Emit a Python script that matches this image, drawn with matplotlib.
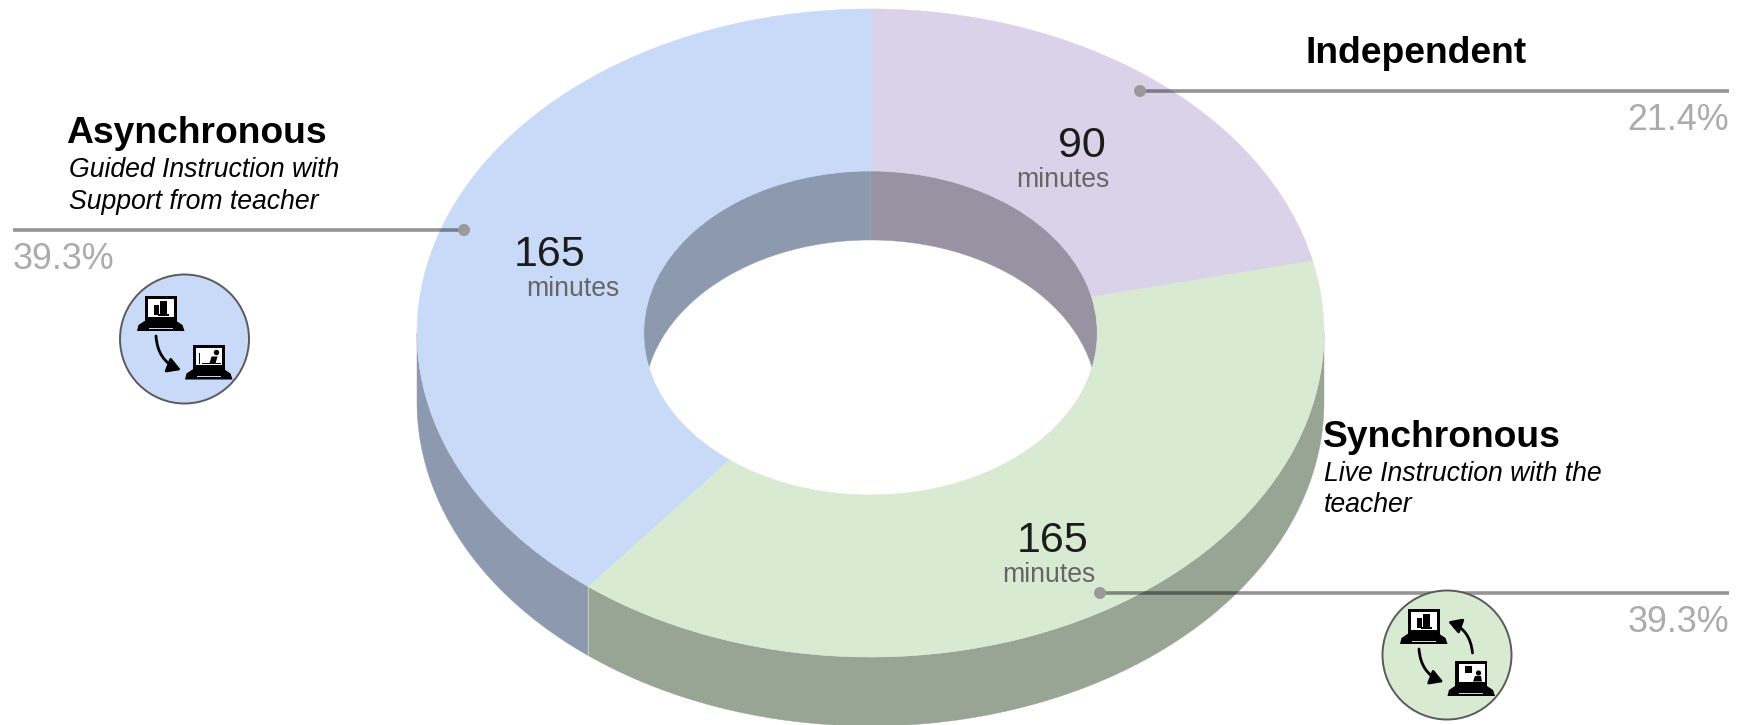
import numpy as np
import matplotlib
matplotlib.use("Agg")
import matplotlib.pyplot as plt
from matplotlib.patches import Circle, Polygon, Rectangle, FancyArrowPatch

plt.rcParams['font.family'] = ['Liberation Sans', 'DejaVu Sans']

# ---- data ----
categories = ["Independent", "Synchronous", "Asynchronous"]
minutes = [90, 165, 165]
percent_labels = ["21.4%", "39.3%", "39.3%"]
top_colors = ["#d9d2e9", "#d9ead3", "#c9daf8"]
side_colors = ["#9893a3", "#98a494", "#8d99ae"]

W, H = 1748, 725
CX, CY, RX, RY = 870.5, 333.0, 453.5, 324.0
DEPTH = 69.0 / RY
HOLE = 0.5

fig = plt.figure(figsize=(W / 100, H / 100), dpi=100, facecolor="white")

# ---- donut axes: unit circle stretched to the ellipse ----
ax = fig.add_axes([0, 0, 1, 1])
wedges, _ = ax.pie(minutes, colors=top_colors, startangle=90, counterclock=False,
                   radius=1.0, wedgeprops=dict(width=1 - HOLE, linewidth=0.4, zorder=5))
for w, c in zip(wedges, top_colors):
    w.set_edgecolor(c)
ax.set_aspect("auto")
ax.set_xlim(-CX / RX, (W - CX) / RX)
ax.set_ylim((CY - H) / RY, CY / RY)
ax.axis("off")

edges = np.cumsum([0] + minutes) / sum(minutes) * 360.0


def wall(a, b, r, color, z=2, **kw):
    t = np.radians(np.linspace(a, b, 200))
    x, y = r * np.sin(t), r * np.cos(t)
    pts = np.r_[np.c_[x, y], np.c_[x, y - DEPTH][::-1]]
    ax.add_patch(Polygon(pts, closed=True, facecolor=color, edgecolor=color,
                         linewidth=0.3, zorder=z, **kw))


# outer wall: only the front half of the ring is visible
for i in range(len(minutes)):
    a, b = max(edges[i], 90), min(edges[i + 1], 270)
    if a < b:
        wall(a, b, 1.0, side_colors[i])
seam = np.radians(edges[2])
ax.plot([np.sin(seam)] * 2, [np.cos(seam), np.cos(seam) - DEPTH],
        color="#c4cfc0", lw=0.7, zorder=3)

# inner wall: back half of the hole
wall(0, 90, HOLE, side_colors[0])
wall(270, 360, HOLE, side_colors[2])

# ---- overlay in pixel coordinates ----
ov = fig.add_axes([0, 0, 1, 1], facecolor="none")
ov.set_xlim(0, W)
ov.set_ylim(H, 0)
ov.axis("off")


def txt(x, y, s, size, color="black", ha="left", **kw):
    ov.text(x, y, s, fontsize=size, color=color, ha=ha, va="baseline", **kw)


TITLE, SUB, NUM, UNIT, PCT = 26.8, 19.2, 31, 19.2, 25.8

txt(66.5, 143, categories[2], TITLE, weight="bold")
txt(69, 177, "Guided Instruction with", SUB, style="italic")
txt(69, 209, "Support from teacher", SUB, style="italic")
txt(1305.5, 63, categories[0], TITLE, weight="bold")
txt(1323, 447, categories[1], TITLE, weight="bold")
txt(1324, 481, "Live Instruction with the", SUB, style="italic")
txt(1324, 512, "teacher", SUB, style="italic")

txt(13, 269, percent_labels[2], PCT, "#ababab")
txt(1729, 129.5, percent_labels[0], PCT, "#ababab", ha="right")
txt(1729, 632.5, percent_labels[1], PCT, "#ababab", ha="right")

txt(514, 266, str(minutes[2]), NUM, "#1c1c1c")
txt(526, 296, "minutes", UNIT, "#666666")
txt(1058.5, 157, str(minutes[0]), NUM, "#1c1c1c")
txt(1016, 187, "minutes", UNIT, "#666666")
txt(1017, 552.5, str(minutes[1]), NUM, "#1c1c1c")
txt(1002.5, 581.5, "minutes", UNIT, "#666666")

# leader lines
for x0, x1, y in [(13, 464, 230), (1140, 1729, 91), (1100, 1729, 593)]:
    ov.plot([x0, x1], [y, y], color="#000000", alpha=0.42, lw=2.6, zorder=6,
            solid_capstyle="butt")
    dot_x = x1 if x0 == 13 else x0
    ov.add_patch(Circle((dot_x, y), 6, facecolor="#9a9a9a", edgecolor="none", zorder=7))


def laptop(x0, y0, kind):
    k = dict(facecolor="black", edgecolor="none", zorder=12)
    ov.add_patch(Rectangle((x0, y0), 32, 25, **k))
    ov.add_patch(Rectangle((x0 + 3.5, y0 + 3.2), 26, 17.5, facecolor="white",
                           edgecolor="none", zorder=13))
    ov.add_patch(Polygon([(x0, y0 + 25), (x0 + 32, y0 + 25), (x0 + 38, y0 + 29),
                          (x0 + 40, y0 + 35), (x0 - 7.5, y0 + 35), (x0 - 6, y0 + 29)],
                         closed=True, **k))
    ov.add_patch(Rectangle((x0 + 4, y0 + 31.5), 24, 1.3, facecolor="#c4d4e8",
                           edgecolor="none", zorder=13))
    f = dict(facecolor="black", edgecolor="none", zorder=14)
    if kind == "student":
        ov.add_patch(Rectangle((x0 + 15, y0 + 4.5), 7.5, 13, **f))
        ov.add_patch(Rectangle((x0 + 9.5, y0 + 9), 5, 10, **f))
        ov.add_patch(Rectangle((x0 + 13, y0 + 17.5), 11, 2.2, **f))
    elif kind == "guided":
        ov.add_patch(Circle((x0 + 24, y0 + 8), 2.7, **f))
        ov.add_patch(Polygon([(x0 + 19, y0 + 12), (x0 + 25, y0 + 12), (x0 + 23, y0 + 19),
                              (x0 + 17, y0 + 19)], closed=True, **f))
        ov.add_patch(Rectangle((x0 + 9, y0 + 18.5), 19, 1.2, **f))
        ov.add_patch(Rectangle((x0 + 6, y0 + 8), 1.2, 11, **f))
    else:
        ov.add_patch(Rectangle((x0 + 10, y0 + 4.5), 7, 7, **f))
        ov.add_patch(Circle((x0 + 23.5, y0 + 12), 2.6, **f))
        ov.add_patch(Polygon([(x0 + 18, y0 + 20.5), (x0 + 20, y0 + 15), (x0 + 26, y0 + 15),
                              (x0 + 27, y0 + 20.5)], closed=True, **f))


def arrow(p, q, rad):
    ov.add_patch(FancyArrowPatch(p, q, connectionstyle=f"arc3,rad={rad}",
                                 arrowstyle="-|>,head_length=5.5,head_width=3.2",
                                 mutation_scale=1.4, lw=2.0, color="black",
                                 shrinkA=0, shrinkB=0, zorder=12))


# Asynchronous icon
ov.add_patch(Circle((184.5, 339), 64.5, facecolor=top_colors[2], edgecolor="#5a5a5a",
                    lw=1.4, zorder=10))
laptop(144.5, 296, "student")
laptop(192.5, 344.5, "guided")
arrow((156, 336), (181, 370), 0.32)

# Synchronous icon
ov.add_patch(Circle((1447, 655), 64.5, facecolor=top_colors[1], edgecolor="#5a5a5a",
                    lw=1.4, zorder=10))
laptop(1407.5, 609, "student")
laptop(1455, 661, "live")
arrow((1419, 649), (1443.5, 682), 0.32)
arrow((1472.5, 653), (1448, 621.5), 0.32)

fig.savefig("out.png", dpi=100, facecolor="white")
